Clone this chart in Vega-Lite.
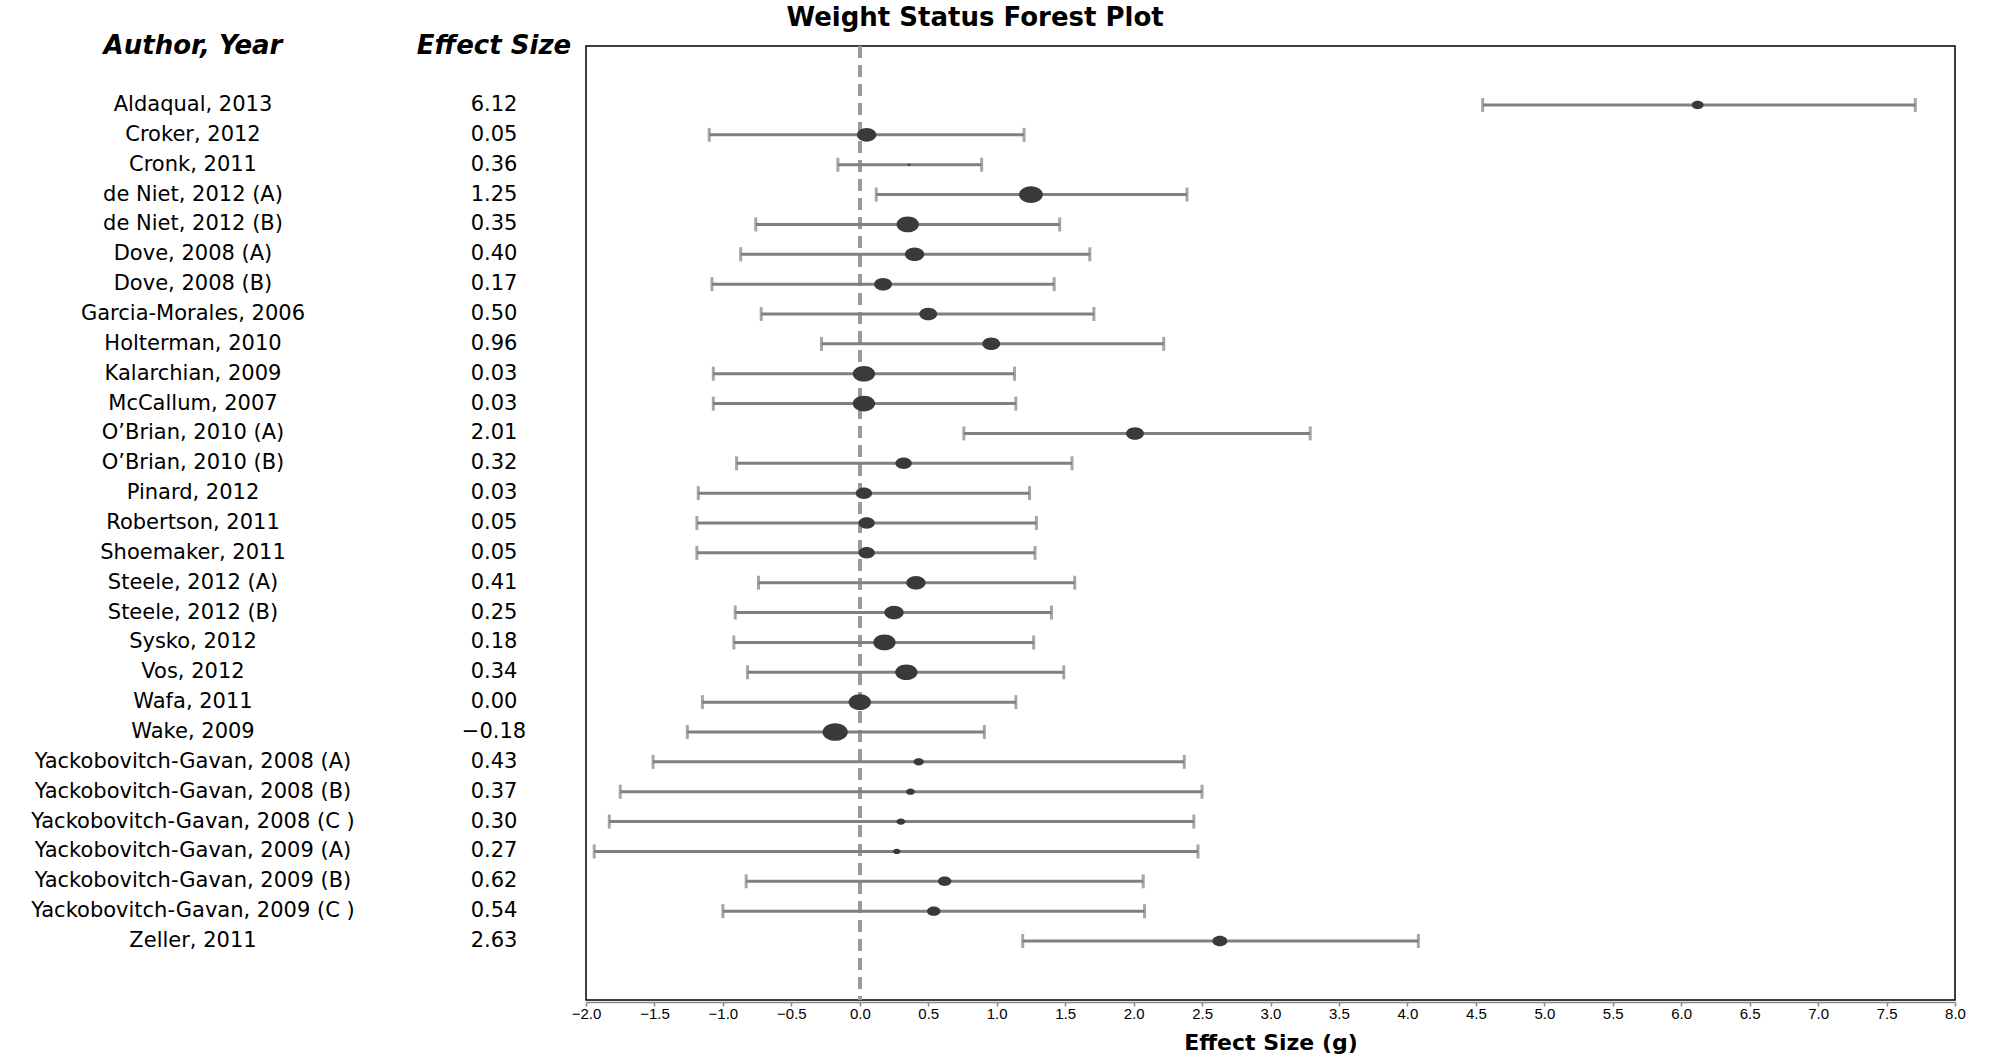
{
  "$schema": "https://vega.github.io/schema/vega-lite/v6.json",
  "background": "white",
  "padding": {"left": -16, "top": 5, "right": 5, "bottom": 0},
  "title": {"text": "Weight Status Forest Plot", "font": "DejaVu Sans", "fontSize": 26, "fontWeight": "bold", "color": "black", "anchor": "middle", "frame": "bounds", "offset": 2},
  "config": {"view": {"stroke": null}, "font": "DejaVu Sans"},
  "data": {"values": [
    {"study": "Aldaqual, 2013", "es": 6.12, "lo": 4.55, "hi": 7.71, "weight": 1.55},
    {"study": "Croker, 2012", "es": 0.05, "lo": -1.10, "hi": 1.20, "weight": 4.12},
    {"study": "Cronk, 2011", "es": 0.36, "lo": -0.16, "hi": 0.89, "weight": 0.09},
    {"study": "de Niet, 2012 (A)", "es": 1.25, "lo": 0.12, "hi": 2.39, "weight": 6.23},
    {"study": "de Niet, 2012 (B)", "es": 0.35, "lo": -0.76, "hi": 1.46, "weight": 5.48},
    {"study": "Dove, 2008 (A)", "es": 0.40, "lo": -0.87, "hi": 1.68, "weight": 4.12},
    {"study": "Dove, 2008 (B)", "es": 0.17, "lo": -1.08, "hi": 1.42, "weight": 3.50},
    {"study": "Garcia-Morales, 2006", "es": 0.50, "lo": -0.72, "hi": 1.71, "weight": 3.50},
    {"study": "Holterman, 2010", "es": 0.96, "lo": -0.28, "hi": 2.22, "weight": 3.50},
    {"study": "Kalarchian, 2009", "es": 0.03, "lo": -1.07, "hi": 1.13, "weight": 5.48},
    {"study": "McCallum, 2007", "es": 0.03, "lo": -1.07, "hi": 1.14, "weight": 5.48},
    {"study": "O’Brian, 2010 (A)", "es": 2.01, "lo": 0.76, "hi": 3.29, "weight": 3.50},
    {"study": "O’Brian, 2010 (B)", "es": 0.32, "lo": -0.90, "hi": 1.55, "weight": 2.94},
    {"study": "Pinard, 2012", "es": 0.03, "lo": -1.18, "hi": 1.24, "weight": 2.94},
    {"study": "Robertson, 2011", "es": 0.05, "lo": -1.19, "hi": 1.29, "weight": 2.94},
    {"study": "Shoemaker, 2011", "es": 0.05, "lo": -1.19, "hi": 1.28, "weight": 2.94},
    {"study": "Steele, 2012 (A)", "es": 0.41, "lo": -0.74, "hi": 1.57, "weight": 4.12},
    {"study": "Steele, 2012 (B)", "es": 0.25, "lo": -0.91, "hi": 1.40, "weight": 4.12},
    {"study": "Sysko, 2012", "es": 0.18, "lo": -0.92, "hi": 1.27, "weight": 5.48},
    {"study": "Vos, 2012", "es": 0.34, "lo": -0.82, "hi": 1.49, "weight": 5.48},
    {"study": "Wafa, 2011", "es": 0.00, "lo": -1.15, "hi": 1.14, "weight": 5.48},
    {"study": "Wake, 2009", "es": -0.18, "lo": -1.26, "hi": 0.91, "weight": 7.03},
    {"study": "Yackobovitch-Gavan, 2008 (A)", "es": 0.43, "lo": -1.51, "hi": 2.37, "weight": 1.18},
    {"study": "Yackobovitch-Gavan, 2008 (B)", "es": 0.37, "lo": -1.75, "hi": 2.50, "weight": 0.87},
    {"study": "Yackobovitch-Gavan, 2008 (C )", "es": 0.30, "lo": -1.83, "hi": 2.44, "weight": 0.87},
    {"study": "Yackobovitch-Gavan, 2009 (A)", "es": 0.27, "lo": -1.94, "hi": 2.47, "weight": 0.62},
    {"study": "Yackobovitch-Gavan, 2009 (B)", "es": 0.62, "lo": -0.83, "hi": 2.07, "weight": 1.98},
    {"study": "Yackobovitch-Gavan, 2009 (C )", "es": 0.54, "lo": -1.00, "hi": 2.08, "weight": 1.98},
    {"study": "Zeller, 2011", "es": 2.63, "lo": 1.19, "hi": 4.08, "weight": 2.45}
  ]},
  "spacing": 0,
  "bounds": "flush",
  "hconcat": [
    {
      "width": 418,
      "height": 954,
      "title": {"text": "Author, Year", "font": "DejaVu Sans", "fontSize": 26, "fontWeight": "bold", "fontStyle": "italic", "color": "black", "anchor": "middle", "baseline": "middle", "offset": -26},
      "mark": {"type": "text", "font": "DejaVu Sans", "fontSize": 21, "color": "black", "align": "center", "baseline": "middle"},
      "encoding": {
        "y": {"field": "study", "type": "nominal", "sort": null, "axis": null, "scale": {"type": "point", "padding": 0, "range": [59, 895]}},
        "text": {"field": "study", "type": "nominal"}
      }
    },
    {
      "width": 184,
      "height": 954,
      "title": {"text": "Effect Size", "font": "DejaVu Sans", "fontSize": 26, "fontWeight": "bold", "fontStyle": "italic", "color": "black", "anchor": "middle", "baseline": "middle", "offset": -26},
      "mark": {"type": "text", "font": "DejaVu Sans", "fontSize": 21, "color": "black", "align": "center", "baseline": "middle"},
      "encoding": {
        "y": {"field": "study", "type": "nominal", "sort": null, "axis": null, "scale": {"type": "point", "padding": 0, "range": [59, 895]}},
        "text": {"field": "es", "type": "quantitative", "format": ".2f"}
      }
    },
    {
      "width": 1369,
      "height": 954,
      "view": {"stroke": "black", "strokeWidth": 1.5},
      "encoding": {
        "y": {"field": "study", "type": "nominal", "sort": null, "axis": null, "scale": {"type": "point", "padding": 0, "range": [59, 895]}}
      },
      "layer": [
        {
          "mark": {"type": "rule", "color": "#9a9a9a", "strokeWidth": 3, "strokeDash": [12, 7]},
          "encoding": {"x": {"datum": 0, "type": "quantitative"}, "y": null}
        },
        {
          "mark": {"type": "rule", "color": "#808080", "strokeWidth": 3},
          "encoding": {
            "x": {
              "field": "lo", "type": "quantitative",
              "scale": {"domain": [-2, 8], "nice": false, "zero": false},
              "title": "Effect Size (g)",
              "axis": {
                "values": [-2, -1.5, -1, -0.5, 0, 0.5, 1, 1.5, 2, 2.5, 3, 3.5, 4, 4.5, 5, 5.5, 6, 6.5, 7, 7.5, 8],
                "format": ".1f",
                "grid": false,
                "offset": 2,
                "domainColor": "#888888",
                "domainWidth": 1.5,
                "tickColor": "#888888",
                "tickWidth": 1.5,
                "tickSize": 4,
                "labelFont": "Liberation Sans",
                "labelFontSize": 15,
                "labelColor": "black",
                "labelPadding": 0,
                "labelFlush": false,
                "titleFont": "DejaVu Sans",
                "titleFontSize": 22,
                "titleFontWeight": "bold",
                "titleColor": "black",
                "titlePadding": 11
              }
            },
            "x2": {"field": "hi"}
          }
        },
        {
          "mark": {"type": "tick", "color": "#808080", "thickness": 3, "size": 14, "orient": "vertical"},
          "encoding": {"x": {"field": "lo", "type": "quantitative"}}
        },
        {
          "mark": {"type": "tick", "color": "#808080", "thickness": 3, "size": 14, "orient": "vertical"},
          "encoding": {"x": {"field": "hi", "type": "quantitative"}}
        },
        {
          "mark": {"type": "point", "filled": true, "color": "#3a3a3a", "opacity": 1, "shape": "M -1 0 A 1 0.7 0 1 0 1 0 A 1 0.7 0 1 0 -1 0 Z"},
          "encoding": {
            "x": {"field": "es", "type": "quantitative"},
            "size": {"field": "weight", "type": "quantitative", "scale": {"domain": [0, 7], "range": [0, 640]}, "legend": null}
          }
        }
      ]
    }
  ]
}
